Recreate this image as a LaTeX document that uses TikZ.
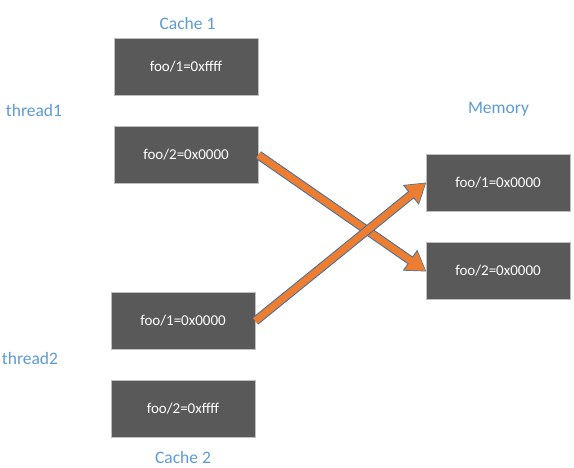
\documentclass[tikz,border=0pt]{standalone}
\usepackage{fontspec}
\setmainfont{Carlito}
\usetikzlibrary{arrows.meta}
\definecolor{boxgray}{HTML}{595959}
\definecolor{boxedge}{HTML}{BFBFBF}
\definecolor{labelblue}{HTML}{5B9BD5}
\definecolor{flow}{HTML}{ED7D31}
\definecolor{flowedge}{HTML}{41719C}
\tikzset{
  cell/.style={rectangle, minimum width=144pt, minimum height=57pt, fill=boxgray, draw=boxedge, line width=0.8pt, text=white, font=\fontsize{15}{17}\selectfont},
  tag/.style={text=labelblue, font=\fontsize{17.5}{19}\selectfont},
  flowline/.style={line width=9pt, color=flowedge, -{Triangle[width=24pt,length=20pt]}, shorten >=-1pt},
  flowfill/.style={line width=7pt, color=flow, -{Triangle[width=21pt,length=18pt]}}
}

\begin{document}
\begin{tikzpicture}
[every node/.style={inner sep=0pt}]
\useasboundingbox (0pt, 0pt) rectangle (574pt, -468pt);
\node (c1) [tag] at (187.5pt, -23.0pt) {Cache 1};
\node (t1) [tag] at (34.0pt, -110.0pt) {thread1};
\node (mem) [tag] at (498.5pt, -109.0pt) {Memory};
\node (t2) [tag] at (30.0pt, -358.0pt) {thread2};
\node (c2) [tag] at (183.0pt, -457.0pt) {Cache 2};
\node (a1) [cell] at (186.0pt, -66.5pt) {foo/1=0xffff};
\node (a2) [cell] at (186.0pt, -155.0pt) {foo/2=0x0000};
\node (b1) [cell] at (183.0pt, -321.0pt) {foo/1=0x0000};
\node (b2) [cell] at (183.0pt, -408.5pt) {foo/2=0xffff};
\node (m1) [cell] at (498.0pt, -183.0pt) {foo/1=0x0000};
\node (m2) [cell] at (498.0pt, -271.0pt) {foo/2=0x0000};
\draw [flowline] (a2.east) to (m2.west);
\draw [flowfill] (a2.east) to (m2.west);
\draw [flowline] (b1.east) to (m1.west);
\draw [flowfill] (b1.east) to (m1.west);


\end{tikzpicture}
\end{document}
